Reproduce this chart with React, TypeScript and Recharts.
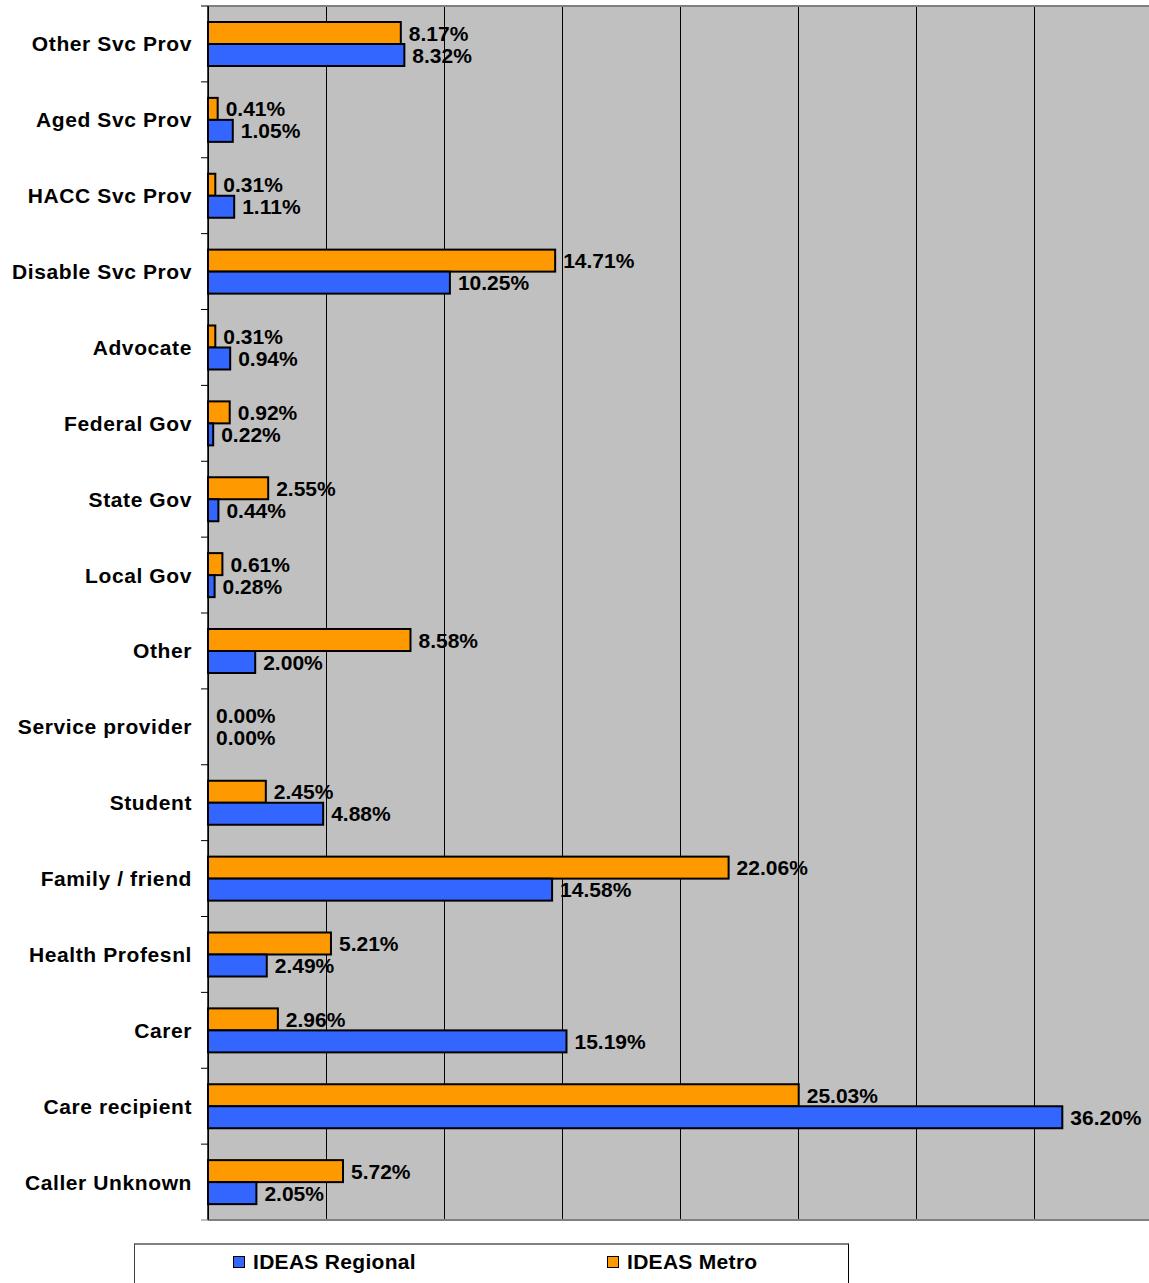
import React from 'react';
import { BarChart, Bar, XAxis, YAxis, CartesianGrid } from 'recharts';

const categories = [
  'Other Svc Prov', 'Aged Svc Prov', 'HACC Svc Prov', 'Disable Svc Prov', 'Advocate',
  'Federal Gov', 'State Gov', 'Local Gov', 'Other', 'Service provider', 'Student',
  'Family / friend', 'Health Profesnl', 'Carer', 'Care recipient', 'Caller Unknown',
];
const metro = [8.17, 0.41, 0.31, 14.71, 0.31, 0.92, 2.55, 0.61, 8.58, 0.0, 2.45, 22.06, 5.21, 2.96, 25.03, 5.72];
const regional = [8.32, 1.05, 1.11, 10.25, 0.94, 0.22, 0.44, 0.28, 2.0, 0.0, 4.88, 14.58, 2.49, 15.19, 36.2, 2.05];
const xTicks = [0, 5, 10, 15, 20, 25, 30, 35, 40];

const data = categories.map((name, i) => ({ name, metro: metro[i], regional: regional[i] }));

const FONT = '"Liberation Sans", Arial, sans-serif';
const CHART_W = 1152;
const CHART_H = 1283;
const MARGIN = { top: 6, right: 0, bottom: 63, left: 0 };
const Y_W = 208;
const PLOT_H = CHART_H - MARGIN.top - MARGIN.bottom;
const BAND = PLOT_H / categories.length;

const CategoryTick = (props: any) => {
  const { y, payload, index } = props;
  const ax = MARGIN.left + Y_W;
  return (
    <g>
      <text
        x={ax - 16}
        y={y}
        textAnchor="end"
        dominantBaseline="central"
        fontFamily={FONT}
        fontWeight="bold"
        fontSize={21}
        letterSpacing={0.6}
        fill="#000"
      >
        {payload.value}
      </text>
      <line x1={ax - 7} x2={ax} y1={y - BAND / 2} y2={y - BAND / 2} stroke="#000" strokeWidth={1} />
      {index === categories.length - 1 && (
        <line x1={ax - 7} x2={ax} y1={y + BAND / 2} y2={y + BAND / 2} stroke="#808080" strokeWidth={1} />
      )}
    </g>
  );
};

const fmt = (v: any) => `${Number(v).toFixed(2)}%`;

const makeShape = (key: string, color: string) => (props: any) => {
  const { x, y, width, height, payload } = props;
  const X = Number(x);
  const Y = Number(y);
  const W = Math.max(0, Number(width) || 0);
  const H = Number(height) || 0;
  const v = payload ? payload[key] : props.value;
  return (
    <g>
      {W > 0 && (
        <rect x={X} y={Y} width={W} height={H} fill={color} stroke="#000" strokeWidth={2} />
      )}
      <text
        x={X + W + 8}
        y={Y + H / 2}
        dominantBaseline="central"
        fontFamily={FONT}
        fontWeight="bold"
        fontSize={21}
        fill="#000"
      >
        {fmt(v)}
      </text>
    </g>
  );
};

const MetroShape = makeShape('metro', '#FF9900');
const RegionalShape = makeShape('regional', '#3366FF');

export default function App() {
  return (
    <div style={{ position: 'absolute', left: 0, top: 0, width: 1149, height: 1283, overflow: 'hidden', background: '#fff' }}>
      <BarChart
        width={CHART_W}
        height={CHART_H}
        data={data}
        layout="vertical"
        margin={MARGIN}
        barGap={0}
        barSize={22}
      >
        <CartesianGrid
          fill="#C0C0C0"
          fillOpacity={1}
          horizontal={false}
          vertical={true}
          stroke="#000"
          strokeWidth={1}
          shapeRendering="crispEdges"
        />
        <CartesianGrid
          horizontal={true}
          vertical={false}
          stroke="#808080"
          strokeWidth={2}
          horizontalCoordinatesGenerator={({ offset }: any) => [offset.top, offset.top + offset.height]}
        />
        <XAxis type="number" domain={[0, 40]} ticks={xTicks} hide />
        <YAxis
          type="category"
          dataKey="name"
          width={Y_W}
          interval={0}
          tickLine={false}
          axisLine={{ stroke: '#000', strokeWidth: 1.5 }}
          tick={<CategoryTick />}
        />
        <Bar dataKey="metro" name="IDEAS Metro" fill="#FF9900" isAnimationActive={false} shape={MetroShape} />
        <Bar dataKey="regional" name="IDEAS Regional" fill="#3366FF" isAnimationActive={false} shape={RegionalShape} />
      </BarChart>
      <div
        style={{
          position: 'absolute',
          left: 134,
          top: 1243,
          width: 715,
          height: 60,
          borderTop: '2px solid #808080',
          borderLeft: '1px solid #404040',
          borderRight: '1px solid #000',
          boxSizing: 'border-box',
          fontFamily: FONT,
          fontWeight: 'bold',
          fontSize: 21,
          letterSpacing: 0.3,
          color: '#000',
        }}
      >
        <div style={{ position: 'absolute', left: 98, top: 5, display: 'flex', alignItems: 'center' }}>
          <span style={{ display: 'inline-block', width: 10, height: 10, background: '#3366FF', border: '1px solid #000', marginRight: 8 }} />
          <span>IDEAS Regional</span>
        </div>
        <div style={{ position: 'absolute', left: 472, top: 5, display: 'flex', alignItems: 'center' }}>
          <span style={{ display: 'inline-block', width: 10, height: 10, background: '#FF9900', border: '1px solid #000', marginRight: 8 }} />
          <span>IDEAS Metro</span>
        </div>
      </div>
    </div>
  );
}
